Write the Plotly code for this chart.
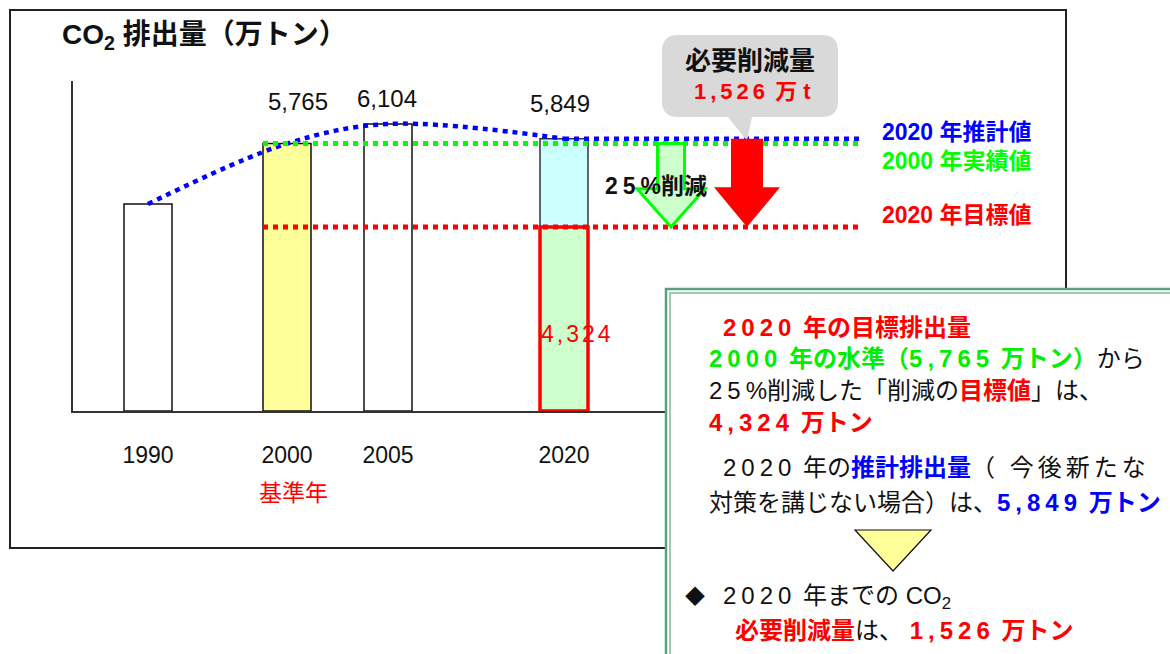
import plotly.graph_objects as go

# ---- data (万トン) ----
YEARS = ["1990", "2000", "2005", "2020"]
EMISSIONS = [4720, 5765, 6104, 5849]   # 2020 = projected emission without new measures
TARGET_2020 = 4324                      # 25% cut from the 2000 level
REDUCTION = 1526                        # required reduction by 2020
CUT_RATE = 25

# ---- layout helpers ----
W, H = 1170, 654
FONT = "Liberation Sans, Arial, Noto Sans CJK JP, sans-serif"
Y_FLOOR, Y_CEIL = 1144, 6847


def PX(x):
    return x / W


def PY(y):
    return 1 - y / H


def XD(px):
    # x data units: 100 px per unit, starting at the y axis
    return (px - 73) / 100


BAR_X = [XD(148), XD(287), XD(388), XD(564)]
BAR_W = 0.48
LINE_X0, LINE_X1 = XD(263), XD(860)


def ls(t, sp=5):
    return f'<span style="letter-spacing:{sp}px">{t}</span>'


def col(t, c, bold=True):
    s = f'<span style="color:{c}">{t}</span>'
    return f"<b>{s}</b>" if bold else s


RED, GREEN, BLUE = "#FF0000", "#00EE00", "#0000FF"

fig = go.Figure()

# bars 1990 / 2000 / 2005
fig.add_trace(go.Bar(
    x=BAR_X[:3], y=[v - Y_FLOOR for v in EMISSIONS[:3]], base=Y_FLOOR, width=BAR_W,
    marker=dict(color=["white", "#FFFF99", "white"], line=dict(color="#111", width=1.5)),
    hoverinfo="skip"))
# 2020 projected: upper part above the target
fig.add_trace(go.Bar(
    x=[BAR_X[3]], y=[EMISSIONS[3] - TARGET_2020], base=TARGET_2020, width=BAR_W,
    marker=dict(color="#CCFFFF", line=dict(color="#333", width=1.5)), hoverinfo="skip"))
# 2020 target
fig.add_trace(go.Bar(
    x=[BAR_X[3]], y=[TARGET_2020 - Y_FLOOR], base=Y_FLOOR, width=BAR_W,
    marker=dict(color="#CCFFCC", line=dict(color=RED, width=3.5)), hoverinfo="skip"))

# projected trend (blue dotted)
fig.add_trace(go.Scatter(
    x=BAR_X, y=EMISSIONS, mode="lines",
    line=dict(color=BLUE, width=4.5, dash="5px,5px", shape="spline", smoothing=1.0),
    hoverinfo="skip"))
fig.add_trace(go.Scatter(
    x=[BAR_X[3], LINE_X1], y=[EMISSIONS[3], EMISSIONS[3]], mode="lines",
    line=dict(color=BLUE, width=4.5, dash="5px,5px"), hoverinfo="skip"))
# 2000 actual level (green) and 2020 target (red)
fig.add_trace(go.Scatter(
    x=[LINE_X0, LINE_X1], y=[EMISSIONS[1], EMISSIONS[1]], mode="lines",
    line=dict(color="#00FF00", width=5, dash="5px,5px"), hoverinfo="skip"))
fig.add_trace(go.Scatter(
    x=[LINE_X0, LINE_X1], y=[TARGET_2020, TARGET_2020], mode="lines",
    line=dict(color=RED, width=5, dash="5px,5px"), hoverinfo="skip"))


def arrow_path(xc, sw, hw, top, tip, head_frac):
    hs = tip + head_frac * (top - tip)
    pts = [(xc - sw, top), (xc + sw, top), (xc + sw, hs), (xc + hw, hs),
           (xc, tip), (xc - hw, hs), (xc - sw, hs)]
    return "M " + " L ".join(f"{x},{y}" for x, y in pts) + " Z"


def paper_path(cmds):
    out = []
    for c in cmds:
        if isinstance(c, str):
            out.append(c)
        else:
            out.append(f"{PX(c[0])},{PY(c[1])}")
    return " ".join(out)


shapes = []
# outer frame
shapes.append(dict(type="rect", xref="paper", yref="paper", x0=PX(10), x1=PX(1066),
                   y0=PY(548), y1=PY(10), line=dict(color="#222", width=2), layer="below"))
# callout bubble with tail
x0, x1, y0, y1, r = 662, 838, 35, 117, 16
bubble = paper_path([
    "M", (x0 + r, y0), "L", (x1 - r, y0), "Q", (x1, y0), (x1, y0 + r),
    "L", (x1, y1 - r), "Q", (x1, y1), (x1 - r, y1),
    "L", (752, y1), "L", (747, 141), "L", (728, y1),
    "L", (x0 + r, y1), "Q", (x0, y1), (x0, y1 - r),
    "L", (x0, y0 + r), "Q", (x0, y0), (x0 + r, y0), "Z"])
shapes.append(dict(type="path", xref="paper", yref="paper", path=bubble,
                   fillcolor="#D9D9D9", line=dict(width=0), layer="above"))
# required-reduction arrow (projection -> target)
shapes.append(dict(type="path", xref="x", yref="y",
                   path=arrow_path(XD(747), 0.16, 0.33, EMISSIONS[3], TARGET_2020, 0.45),
                   fillcolor=RED, line=dict(width=0), layer="above"))
# 25% cut arrow (2000 level -> target)
shapes.append(dict(type="path", xref="x", yref="y",
                   path=arrow_path(XD(671), 0.135, 0.34, EMISSIONS[1], TARGET_2020, 0.46),
                   fillcolor="#CCFFCC", line=dict(color="#00FF00", width=3), layer="above"))
# explanation box with double border
shapes.append(dict(type="rect", xref="paper", yref="paper", x0=PX(666), x1=PX(1175),
                   y0=PY(660), y1=PY(289), fillcolor="white",
                   line=dict(color="#5AA37A", width=2.5), layer="above"))
shapes.append(dict(type="rect", xref="paper", yref="paper", x0=PX(670), x1=PX(1175),
                   y0=PY(660), y1=PY(293), fillcolor="rgba(0,0,0,0)",
                   line=dict(color="#7DBB92", width=1.5), layer="above"))
# yellow down triangle
tri = paper_path(["M", (855, 530), "L", (931, 530), "L", (893, 571), "Z"])
shapes.append(dict(type="path", xref="paper", yref="paper", path=tri,
                   fillcolor="#FFFF99", line=dict(color="#111", width=1.2), layer="above"))

ann = []


def text(x, y, t, size=22, color="#111", anchor="left"):
    ann.append(dict(x=PX(x), y=PY(y), xref="paper", yref="paper", text=t, showarrow=False,
                    xanchor=anchor, yanchor="middle", font=dict(family=FONT, size=size, color=color)))


# title
text(60, 37, "<b>CO<sub>2</sub> 排出量（万トン）</b>", size=28)
# bar values
text(298, 101, f"{EMISSIONS[1]:,}", size=24, anchor="center")
text(387, 99, f"{EMISSIONS[2]:,}", size=24, anchor="center")
text(560, 104, f"{EMISSIONS[3]:,}", size=24, anchor="center")
text(539, 334, ls(f"{TARGET_2020:,}", 3), size=23, color=RED)
text(293, 493, "基準年", size=23, color=RED, anchor="center")
# callout
text(750, 61, "<b>必要削減量</b>", size=26, anchor="center")
text(752, 92, col(ls(f"{REDUCTION:,}", 4) + " 万 t", RED), anchor="center")
# line labels
text(880, 132, "<b>2020 年推計値</b>", size=23, color=BLUE)
text(880, 161, "<b>2000 年実績値</b>", size=23, color="#00FF00")
text(880, 215, "<b>2020 年目標値</b>", size=23, color=RED)
# cut label
text(603, 186, "<b>" + ls(str(CUT_RATE)) + "%削減</b>", size=23)

# explanation box text
text(721, 327, col(ls("2020") + " 年の目標排出量", RED), size=24)
text(707, 358, col(ls("2000") + " 年の水準（" + ls(f"{EMISSIONS[1]:,}") + " 万トン）", GREEN) + "から", size=24)
text(707, 390, ls(str(CUT_RATE)) + "%削減した「削減の" + col("目標値", RED) + "」は、", size=24)
text(707, 422, col(ls(f"{TARGET_2020:,}") + " 万トン", RED), size=24)
text(721, 467, ls("2020") + " 年の" + col("推計排出量", BLUE) + ls("（ 今後新たな", 4), size=24)
text(707, 502, "対策を講じない場合）は、" + col(ls(f"{EMISSIONS[3]:,}") + " 万トン", BLUE), size=24)
text(695, 597, "◆", size=20, anchor="center")
text(721, 597, ls("2020") + " 年までの CO<sub>2</sub>", size=24)
text(733, 630, col("必要削減量", RED) + "は、 " + col(ls(f"{REDUCTION:,}") + " 万トン", RED), size=24)

fig.update_layout(
    width=W, height=H, margin=dict(l=0, r=0, t=0, b=0),
    paper_bgcolor="white", plot_bgcolor="white", showlegend=False, barmode="overlay",
    shapes=shapes, annotations=ann,
    xaxis=dict(domain=[PX(73), PX(873)], range=[0, 8], showline=True, linecolor="#333",
               linewidth=2, showgrid=False, zeroline=False, ticks="",
               tickvals=BAR_X, ticktext=YEARS, ticklabelstandoff=22,
               tickfont=dict(family=FONT, size=23, color="#111")),
    yaxis=dict(domain=[PY(411), PY(81)], range=[Y_FLOOR, Y_CEIL], showline=True,
               linecolor="#333", linewidth=2, showgrid=False, zeroline=False,
               showticklabels=False, ticks=""),
)

fig.write_html("out.html")
